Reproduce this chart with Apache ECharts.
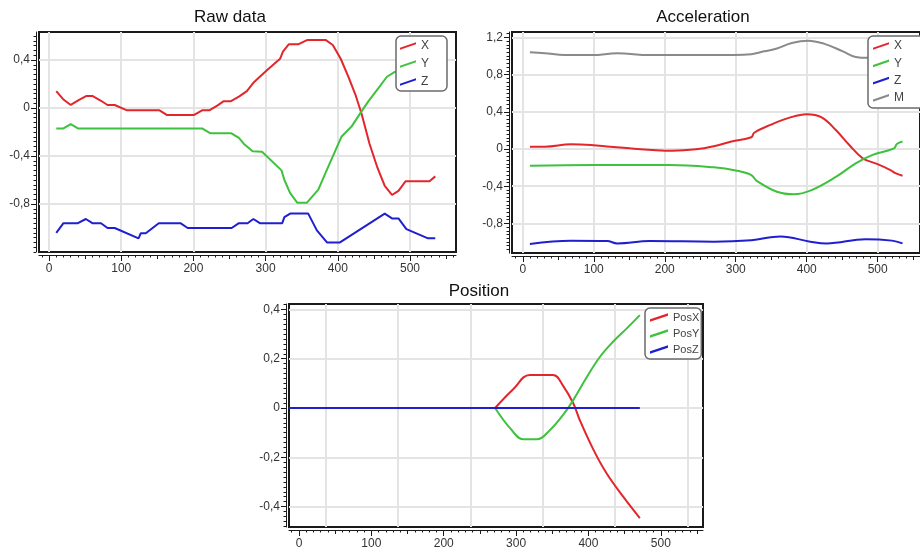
<!DOCTYPE html>
<html><head><meta charset="utf-8">
<script src="https://cdn.jsdelivr.net/npm/echarts@6/dist/echarts.min.js"></script>
<style>html,body{margin:0;padding:0;background:#fff}#c{width:920px;height:556px}</style>
</head><body><div id="c"></div>
<script>
// ---- tick labels ----
const xTickLabels = [0, 100, 200, 300, 400, 500];
const rawYTicks = [-0.8, -0.4, 0, 0.4];
const accYTicks = [-0.8, -0.4, 0, 0.4, 0.8, 1.2];
const posYTicks = [-0.4, -0.2, 0, 0.2, 0.4];
const posXGridLines = [37, 137, 237, 337, 437, 537];

// ---- Raw data ----
const rawXx = [10, 20, 30, 41, 52, 60, 72, 81, 91, 108, 153, 163, 201, 212, 222, 233, 242, 252, 263, 274, 283, 301, 320, 324, 332, 345, 358, 383, 393, 404, 415, 425, 433, 444, 455, 465, 475, 484, 494, 527, 535];
const rawXy = [0.14, 0.07, 0.025, 0.065, 0.1, 0.1, 0.06, 0.025, 0.025, -0.02, -0.02, -0.058, -0.058, -0.02, -0.02, 0.02, 0.057, 0.057, 0.095, 0.14, 0.21, 0.31, 0.41, 0.47, 0.53, 0.53, 0.567, 0.567, 0.525, 0.41, 0.255, 0.1, -0.05, -0.3, -0.5, -0.65, -0.725, -0.69, -0.61, -0.61, -0.57];
const rawYx = [10, 20, 30, 40, 212, 223, 252, 263, 270, 282, 295, 322, 326, 334, 344, 357, 373, 383, 394, 405, 419, 431, 442, 456, 468, 479, 495, 515, 535];
const rawYy = [-0.17, -0.17, -0.135, -0.17, -0.17, -0.21, -0.21, -0.25, -0.3, -0.36, -0.365, -0.52, -0.6, -0.71, -0.79, -0.79, -0.68, -0.54, -0.39, -0.24, -0.155, -0.045, 0.053, 0.164, 0.26, 0.3, 0.31, 0.31, 0.3];
const rawZx = [10, 20, 40, 51, 60, 72, 81, 91, 124, 127, 134, 152, 182, 192, 253, 263, 275, 283, 292, 323, 326, 334, 359, 371, 385, 403, 465, 475, 484, 495, 525, 535];
const rawZy = [-1.04, -0.96, -0.96, -0.925, -0.96, -0.96, -1.0, -1.0, -1.086, -1.044, -1.044, -0.96, -0.96, -1.0, -1.0, -0.96, -0.96, -0.925, -0.96, -0.96, -0.91, -0.88, -0.88, -1.02, -1.12, -1.12, -0.88, -0.92, -0.92, -1.01, -1.086, -1.086];

// ---- Acceleration ----
const accXx = [10, 31, 68, 96, 123, 151, 183, 211, 244, 269, 294, 322, 326, 349, 377, 400, 421, 441, 460, 479, 497, 518, 525, 535];
const accXy = [0.025, 0.025, 0.05, 0.043, 0.025, 0.007, -0.01, -0.018, -0.003, 0.03, 0.08, 0.126, 0.175, 0.26, 0.34, 0.373, 0.34, 0.204, 0.043, -0.1, -0.154, -0.226, -0.26, -0.287];
const accYx = [10, 100, 206, 269, 300, 322, 329, 358, 382, 405, 441, 469, 492, 523, 527, 535];
const accYy = [-0.18, -0.172, -0.172, -0.197, -0.23, -0.28, -0.34, -0.46, -0.487, -0.448, -0.30, -0.154, -0.065, 0.007, 0.054, 0.08];
const accZx = [10, 68, 119, 133, 179, 269, 322, 363, 405, 428, 483, 520, 535];
const accZy = [-1.02, -0.985, -0.99, -1.015, -0.99, -0.996, -0.98, -0.94, -0.996, -1.015, -0.97, -0.985, -1.015];
const accMx = [10, 31, 59, 98, 133, 179, 230, 269, 322, 340, 358, 379, 402, 425, 451, 469, 486, 510, 535];
const accMy = [1.04, 1.03, 1.01, 1.01, 1.03, 1.01, 1.01, 1.01, 1.02, 1.05, 1.08, 1.14, 1.165, 1.13, 1.05, 0.99, 0.98, 0.98, 0.99];

// ---- Position ----
const posXx = [271, 296, 319, 351, 365, 379, 388, 407, 425, 448, 471];
const posXy = [0, 0.076, 0.134, 0.134, 0.09, 0.019, -0.049, -0.17, -0.265, -0.36, -0.447];
const posYx = [271, 292, 310, 329, 347, 365, 379, 398, 416, 434, 453, 471];
const posYy = [0, -0.083, -0.127, -0.127, -0.089, -0.028, 0.032, 0.127, 0.208, 0.269, 0.323, 0.377];
const posZx = [-14, 100, 200, 300, 400, 471];
const posZy = [0, 0, 0, 0, 0, 0];

const FONT = 'Liberation Sans, Arial, sans-serif';
const C = { X: '#e3262b', Y: '#3ec23e', Z: '#1f1fcf', M: '#8a8a8a' };
const ICON = 'path://M0,6.5 L16,1 L16,3.2 L0,8.7 Z';

const zip = (a, b) => a.map((v, i) => [v, b[i]]);
const fmt = v => (Math.abs(v) < 1e-9 ? '0' : (Math.round(v * 10) / 10).toFixed(1).replace('.', ','));
const steps = (lo, hi, st) => { const r = []; for (let k = Math.ceil(lo / st - 1e-9); k * st <= hi + 1e-9; k++) r.push(+(k * st).toFixed(4)); return r; };

const grids = [
  { left: 39, top: 32, width: 417, height: 220 },
  { left: 512, top: 32, width: 415, height: 221 },
  { left: 289, top: 304, width: 414, height: 223 }
].map(g => Object.assign(g, { show: true, borderColor: '#1a1a1a', borderWidth: 2, backgroundColor: 'rgba(0,0,0,0)' }));

const xAxes = [], yAxes = [];
const splitStyle = { color: '#e4e4e4', width: 2 };
const noLine = { show: false, onZero: false };
const tickStyle = { color: '#1a1a1a' };
function addX(g, min, max, gridVals) {
  const main = xAxes.length;
  xAxes.push({ type: 'value', gridIndex: g, min, max, position: 'bottom', offset: 3,
    axisLine: { show: true, onZero: false, lineStyle: { color: '#1a1a1a', width: 1 } },
    axisTick: { show: true, customValues: xTickLabels, length: 6, lineStyle: tickStyle },
    axisLabel: { customValues: xTickLabels, margin: 8, color: '#333', fontSize: 12, fontFamily: FONT },
    splitLine: { show: !gridVals, lineStyle: splitStyle } });
  xAxes.push({ type: 'value', gridIndex: g, min, max, position: 'bottom', offset: 3,
    axisLine: noLine, axisLabel: { show: false }, splitLine: { show: false },
    axisTick: { show: true, customValues: steps(min, max, 100).map(v => v + 50).filter(v => v < max), length: 4, lineStyle: tickStyle } });
  xAxes.push({ type: 'value', gridIndex: g, min, max, position: 'bottom', offset: 3,
    axisLine: noLine, axisLabel: { show: false }, splitLine: { show: false },
    axisTick: { show: true, customValues: steps(min, max, 10), length: 2.5, lineStyle: tickStyle } });
  if (gridVals) {
    xAxes.push({ type: 'value', gridIndex: g, min, max, position: 'bottom',
      axisLine: noLine, axisLabel: { show: false },
      axisTick: { show: false, customValues: gridVals },
      splitLine: { show: true, lineStyle: splitStyle } });
  }
  return main;
}
function addY(g, min, max, ticks, minorStep) {
  const main = yAxes.length;
  yAxes.push({ type: 'value', gridIndex: g, min, max, position: 'left', offset: 3,
    axisLine: { show: true, onZero: false, lineStyle: { color: '#1a1a1a', width: 1 } },
    axisTick: { show: true, customValues: ticks, length: 5, lineStyle: tickStyle },
    axisLabel: { customValues: ticks, margin: 6, color: '#333', fontSize: 12, fontFamily: FONT, formatter: fmt },
    splitLine: { show: true, lineStyle: splitStyle } });
  yAxes.push({ type: 'value', gridIndex: g, min, max, position: 'left', offset: 3,
    axisLine: noLine, axisLabel: { show: false }, splitLine: { show: false },
    axisTick: { show: true, customValues: steps(min, max, minorStep), length: 2.5, lineStyle: tickStyle } });
  return main;
}

const rx = addX(0, -13.9, 563.7), ry = addY(0, -1.2, 0.633, rawYTicks, 0.04);
const ax = addX(1, -15.2, 559.6), ay = addY(1, -1.118, 1.258, accYTicks, 0.04);
const px = addX(2, -13.8, 558.3, posXGridLines), py = addY(2, -0.483, 0.422, posYTicks, 0.02);

function line(name, xi, yi, xs, ys, color, smooth) {
  return { type: 'line', name, xAxisIndex: xi, yAxisIndex: yi, data: zip(xs, ys),
    showSymbol: false, symbol: 'none', smooth: smooth || false,
    lineStyle: { width: 2, color }, itemStyle: { color }, clip: true };
}
const series = [
  line('X', rx, ry, rawXx, rawXy, C.X), line('Y', rx, ry, rawYx, rawYy, C.Y), line('Z', rx, ry, rawZx, rawZy, C.Z),
  line('X', ax, ay, accXx, accXy, C.X, 0.4), line('Y', ax, ay, accYx, accYy, C.Y, 0.4), line('Z', ax, ay, accZx, accZy, C.Z, 0.4), line('M', ax, ay, accMx, accMy, C.M, 0.4),
  line('PosX', px, py, posXx, posXy, C.X, 0.4), line('PosY', px, py, posYx, posYy, C.Y, 0.4), line('PosZ', px, py, posZx, posZy, C.Z)
];

const legendBase = { orient: 'vertical', icon: ICON, itemWidth: 16, itemHeight: 9, borderColor: '#6b6b6b', borderWidth: 1.5,
  borderRadius: 5, backgroundColor: '#fff', z: 20, selectedMode: false,
  textStyle: { fontSize: 12, color: '#444', fontFamily: FONT } };
const legends = [
  Object.assign({}, legendBase, { data: ['X', 'Y', 'Z'], left: 396, top: 36, padding: [4, 18, 3, 4], itemGap: 6 }),
  Object.assign({}, legendBase, { data: ['X', 'Y', 'Z', 'M'], left: 868, top: 36, padding: [4, 30, 4, 5], itemGap: 5.3 }),
  Object.assign({}, legendBase, { data: ['PosX', 'PosY', 'PosZ'], left: 645, top: 308, padding: [4, 2, 4, 5], itemGap: 5, itemWidth: 18,
    textStyle: { fontSize: 11, color: '#444', fontFamily: FONT } })
];

const titleStyle = { fontSize: 17, fontWeight: 'normal', color: '#111', fontFamily: FONT };
const titles = [
  { text: 'Raw data', left: 230, top: 9, textAlign: 'center', padding: 0, textStyle: titleStyle },
  { text: 'Acceleration', left: 703, top: 9, textAlign: 'center', padding: 0, textStyle: titleStyle },
  { text: 'Position', left: 479, top: 283, textAlign: 'center', padding: 0, textStyle: titleStyle }
];

const chart = echarts.init(document.getElementById('c'), null, { renderer: 'canvas' });
chart.setOption({ animation: false, backgroundColor: '#fff', title: titles, legend: legends, grid: grids, xAxis: xAxes, yAxis: yAxes, series });
</script></body></html>
